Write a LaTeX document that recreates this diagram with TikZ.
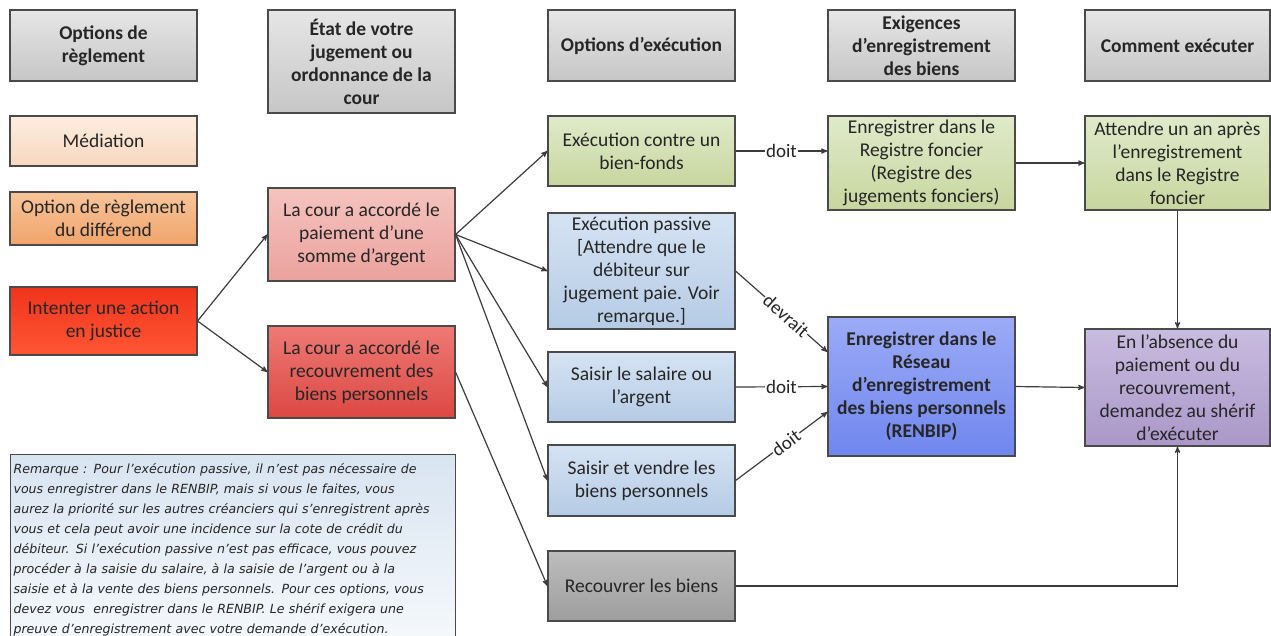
\documentclass[tikz,border=0pt]{standalone}
\usepackage{fontspec}
\setmainfont{Carlito}
\newfontfamily\notefont{DejaVu Sans}
\usetikzlibrary{arrows}

\definecolor{edgegray}{HTML}{4A4A4A}
\definecolor{linegray}{HTML}{3C3C3C}
\definecolor{textc}{HTML}{262626}
\definecolor{hdtop}{HTML}{E6E6E6}\definecolor{hdbot}{HTML}{C6C6C6}
\definecolor{medtop}{HTML}{FCEDE0}\definecolor{medbot}{HTML}{F8D8BF}
\definecolor{odrtop}{HTML}{F8C49A}\definecolor{odrbot}{HTML}{F0A46B}
\definecolor{acttop}{HTML}{F0341C}\definecolor{actbot}{HTML}{FF5634}
\definecolor{paytop}{HTML}{F5C3BE}\definecolor{paybot}{HTML}{EBA29E}
\definecolor{rectop}{HTML}{EE7A75}\definecolor{recbot}{HTML}{DC4843}
\definecolor{grntop}{HTML}{E0EACA}\definecolor{grnbot}{HTML}{C8D69F}
\definecolor{blutop}{HTML}{D5E3F3}\definecolor{blubot}{HTML}{B5CBE5}
\definecolor{rnbtop}{HTML}{9CABF6}\definecolor{rnbbot}{HTML}{6F86EE}
\definecolor{abstop}{HTML}{C8BCE0}\definecolor{absbot}{HTML}{AA97C8}
\definecolor{gretop}{HTML}{BDBDBD}\definecolor{grebot}{HTML}{9E9E9E}
\definecolor{notetop}{HTML}{D8E4F1}\definecolor{notebot}{HTML}{F6F9FC}

\begin{document}
\begin{tikzpicture}[x=1pt,y=-1pt,->,>=stealth',line width=1.2pt,draw=linegray,
  cell/.style={draw=edgegray,line width=1.1pt,minimum width=187pt,inner sep=0pt,
    align=center,text=textc,font=\fontsize{19.5}{23}\selectfont},
  head/.style={cell,top color=hdtop,bottom color=hdbot,
    font=\bfseries\fontsize{19.5}{23}\selectfont},
  lab/.style={fill=white,inner sep=1pt,text=textc,font=\fontsize{19}{20}\selectfont}]
  \useasboundingbox (0,0) rectangle (1271,635);

  % column headers
  \node[head,minimum height=71pt] (h1) at (103.5,45.5) {Options de\\règlement};
  \node[head,minimum height=103pt] (h2) at (361.5,61.5) {État de votre\\jugement ou\\ordonnance de la\\cour};
  \node[head,minimum height=71pt] (h3) at (641.5,45.5) {Options d’exécution};
  \node[head,minimum height=71pt] (h4) at (921.5,45.5) {Exigences\\d'enregistrement\\des biens};
  \node[head,minimum height=71pt,minimum width=185pt] (h5) at (1177.5,45.5) {Comment exécuter};

  % settlement options
  \node[cell,minimum height=50pt,top color=medtop,bottom color=medbot] (med) at (103.5,141) {Médiation};
  \node[cell,minimum height=53pt,top color=odrtop,bottom color=odrbot] (odr) at (103.5,218.5) {Option de règlement\\du différend};
  \node[cell,minimum height=68pt,top color=acttop,bottom color=actbot] (act) at (103.5,321) {Intenter une action\\en justice};

  % court orders
  \node[cell,minimum height=93pt,top color=paytop,bottom color=paybot] (pay) at (361.5,234.5) {La cour a accordé le\\paiement d'une\\somme d'argent};
  \node[cell,minimum height=92pt,top color=rectop,bottom color=recbot] (rec) at (361.5,372) {La cour a accordé le\\recouvrement des\\biens personnels};

  % remark
  \node[draw=edgegray,line width=1.1pt,top color=notetop,bottom color=notebot,
    anchor=north west,minimum width=445pt,minimum height=190pt,inner sep=3pt,
    text width=439pt,align=left,text=textc,
    font=\notefont\itshape\fontsize{12.6}{20}\selectfont] (note) at (10,454)
    {Remarque : Pour l’exécution passive, il n’est pas nécessaire de\\
     vous enregistrer dans le RENBIP, mais si vous le faites, vous\\
     aurez la priorité sur les autres créanciers qui s’enregistrent après\\
     vous et cela peut avoir une incidence sur la cote de crédit du\\
     débiteur. Si l’exécution passive n’est pas efficace, vous pouvez\\
     procéder à la saisie du salaire, à la saisie de l’argent ou à la\\
     saisie et à la vente des biens personnels. Pour ces options, vous\\
     devez vous \ enregistrer dans le RENBIP. Le shérif exigera une\\
     preuve d’enregistrement avec votre demande d’exécution.};

  % enforcement options
  \node[cell,minimum height=70pt,top color=grntop,bottom color=grnbot] (land) at (641.5,151) {Exécution contre un\\bien-fonds};
  \node[cell,minimum height=116pt,top color=blutop,bottom color=blubot] (pass) at (641.5,271) {Exécution passive\\{[Attendre que le}\\débiteur sur\\jugement paie. Voir\\remarque.]};
  \node[cell,minimum height=70pt,top color=blutop,bottom color=blubot] (sal) at (641.5,387) {Saisir le salaire ou\\l'argent};
  \node[cell,minimum height=71pt,top color=blutop,bottom color=blubot] (sell) at (641.5,480.5) {Saisir et vendre les\\biens personnels};
  \node[cell,minimum height=70pt,top color=gretop,bottom color=grebot] (recv) at (641.5,586) {Recouvrer les biens};

  % registration
  \node[cell,minimum height=94pt,top color=grntop,bottom color=grnbot] (reg) at (921.5,163) {Enregistrer dans le\\Registre foncier\\(Registre des\\jugements fonciers)};
  \node[cell,minimum height=139pt,top color=rnbtop,bottom color=rnbbot,
    font=\bfseries\fontsize{19.5}{23}\selectfont] (renb) at (921.5,386.5) {Enregistrer dans le\\Réseau\\d’enregistrement\\des biens personnels\\(RENBIP)};

  % how to enforce
  \node[cell,minimum height=94pt,minimum width=185pt,top color=grntop,bottom color=grnbot] (wait) at (1177.5,163) {Attendre un an après\\l'enregistrement\\dans le Registre\\foncier};
  \node[cell,minimum height=117pt,minimum width=185pt,top color=abstop,bottom color=absbot] (abs) at (1177.5,387.5) {En l’absence du\\paiement ou du\\recouvrement,\\demandez au shérif\\d’exécuter};

  % connectors
  \draw (act.east) -- (pay.west);
  \draw (act.east) -- (rec.west);
  \draw (pay.east) -- (land.west);
  \draw (pay.east) -- (pass.west);
  \draw (pay.east) -- (sal.west);
  \draw (pay.east) -- (sell.west);
  \draw (rec.east) -- (recv.west);
  \draw (land.east) -- node[lab] {doit} (land.east -| reg.west);
  \draw (reg.east) -- (wait.west);
  \draw (wait.south) -- (abs.north);
  \draw (pass.east) -- node[lab,sloped,pos=0.55] {devrait} ([yshift=34.5pt]renb.west);
  \draw (sal.east) -- node[lab] {doit} (renb.west);
  \draw (sell.east) -- node[lab,sloped,pos=0.55] {doit} ([yshift=-25.5pt]renb.west);
  \draw (renb.east) -- (abs.west);
  \draw (recv.east) -| (abs.south);
\end{tikzpicture}
\end{document}
